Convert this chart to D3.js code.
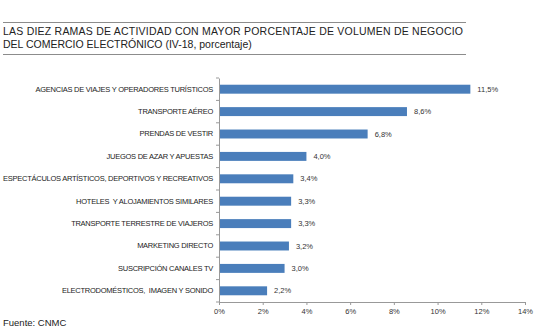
<!DOCTYPE html>
<html>
<head>
<meta charset="utf-8">
<script src="https://cdn.jsdelivr.net/npm/d3@7"></script>
<style>
  body { margin: 0; background: #fff; }
  svg { display: block; font-family: "Liberation Sans", Arial, sans-serif; }
</style>
</head>
<body>
<svg id="chart" width="550" height="327"></svg>
<script>
var categories = [
  "AGENCIAS DE VIAJES Y OPERADORES TURÍSTICOS",
  "TRANSPORTE AÉREO",
  "PRENDAS DE VESTIR",
  "JUEGOS DE AZAR Y APUESTAS",
  "ESPECTÁCULOS ARTÍSTICOS, DEPORTIVOS Y RECREATIVOS",
  "HOTELES  Y ALOJAMIENTOS SIMILARES",
  "TRANSPORTE TERRESTRE DE VIAJEROS",
  "MARKETING DIRECTO",
  "SUSCRIPCIÓN CANALES TV",
  "ELECTRODOMÉSTICOS,  IMAGEN Y SONIDO"
];
var values = [11.5, 8.6, 6.8, 4.0, 3.4, 3.3, 3.3, 3.2, 3.0, 2.2];
var xTicks = [0, 2, 4, 6, 8, 10, 12, 14];
var titleLines = [
  "LAS DIEZ RAMAS DE ACTIVIDAD CON MAYOR PORCENTAJE DE VOLUMEN DE NEGOCIO",
  "DEL COMERCIO ELECTRÓNICO (IV-18, porcentaje)"
];
var source = "Fuente: CNMC";

var svg = d3.select("#chart");
var margin = { top: 78, left: 219, right: 25, bottom: 25 };
var width = 550, height = 327;

// title block with rules
svg.append("line").attr("x1", 3).attr("x2", 466).attr("y1", 22.5).attr("y2", 22.5)
  .attr("stroke", "#8c8c8c").attr("stroke-width", 1);
svg.append("line").attr("x1", 3).attr("x2", 466).attr("y1", 54.5).attr("y2", 54.5)
  .attr("stroke", "#8c8c8c").attr("stroke-width", 1);

svg.append("text").attr("x", 3).attr("y", 34.5)
  .attr("font-size", "10.5px").attr("fill", "#222")
  .attr("textLength", 460).attr("lengthAdjust", "spacing")
  .text(titleLines[0]);
svg.append("text").attr("x", 3).attr("y", 48)
  .attr("font-size", "10.5px").attr("fill", "#222")
  .text(titleLines[1]);

var x = d3.scaleLinear().domain([0, 14]).range([margin.left, width - margin.right]);
var y = d3.scaleBand().domain(categories).range([margin.top, 302]).paddingInner(0.6).paddingOuter(0.3);

// bars
svg.selectAll(".bar")
  .data(values)
  .enter().append("rect")
  .attr("class", "bar")
  .attr("x", x(0))
  .attr("y", function (d, i) { return y(categories[i]); })
  .attr("width", function (d) { return x(d) - x(0); })
  .attr("height", y.bandwidth())
  .attr("fill", "#4a7ebb");

// value labels
svg.selectAll(".val")
  .data(values)
  .enter().append("text")
  .attr("class", "val")
  .attr("x", function (d) { return x(d) + 7; })
  .attr("y", function (d, i) { return y(categories[i]) + y.bandwidth() / 2; })
  .attr("dy", "0.35em")
  .attr("font-size", "7.5px")
  .attr("fill", "#333")
  .text(function (d) { return d.toFixed(1).replace(".", ",") + "%"; });

// y axis
var yAxis = svg.append("g")
  .attr("transform", "translate(" + x(0) + ",0)")
  .call(d3.axisLeft(y).tickSize(0).tickPadding(6));
yAxis.select(".domain").attr("stroke", "#999");
yAxis.selectAll("text").attr("font-size", "7.5px").attr("fill", "#222")
  .attr("font-family", "\"Liberation Sans\", Arial, sans-serif")
  .attr("letter-spacing", "-0.26px")
  .style("white-space", "pre");

// small ticks at band boundaries on the category axis
var step = y.step();
var bounds = d3.range(categories.length + 1).map(function (i) { return y.range()[0] + i * step; });
svg.selectAll(".ytick")
  .data(bounds)
  .enter().append("line")
  .attr("x1", x(0) - 3).attr("x2", x(0))
  .attr("y1", function (d) { return d; }).attr("y2", function (d) { return d; })
  .attr("stroke", "#999");

// x axis
var xAxis = svg.append("g")
  .attr("transform", "translate(0,302)")
  .call(d3.axisBottom(x).tickValues(xTicks).tickSize(3).tickPadding(4)
    .tickFormat(function (d) { return d + "%"; }));
xAxis.selectAll("line, .domain").attr("stroke", "#999");
xAxis.selectAll("text").attr("font-size", "7.5px").attr("fill", "#333")
  .attr("font-family", "\"Liberation Sans\", Arial, sans-serif");

svg.append("text").attr("x", 3).attr("y", 326)
  .attr("font-size", "9.5px").attr("fill", "#222")
  .text(source);
</script>
</body>
</html>
